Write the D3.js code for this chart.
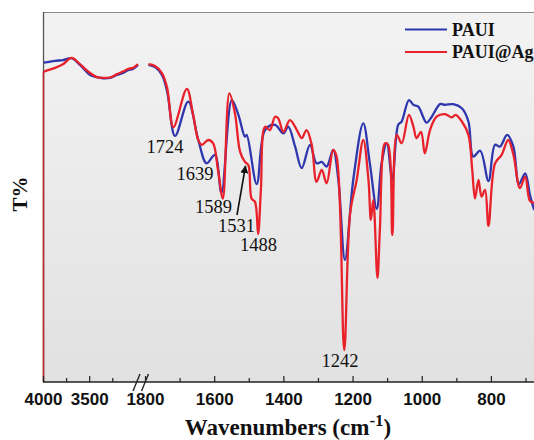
<!DOCTYPE html>
<html><head><meta charset="utf-8">
<script src="https://cdn.jsdelivr.net/npm/d3@7"></script>
<style>body{margin:0;background:#fff}svg{display:block}</style>
</head><body><div id="chart"></div>
<script>
// High-wavenumber segment (4000 - ~2970 cm-1)
const upperWave = [3992, 3870, 3784, 3689, 3600, 3491, 3416, 3351, 3275, 3199, 3134, 3080, 3026, 2972];
const upperPAUI   = [86.3, 86.8, 87.0, 87.5, 85.7, 83.0, 82.4, 82.1, 82.2, 83.0, 83.5, 84.3, 84.6, 85.7];
const upperPAUIAg = [83.9, 84.9, 85.9, 87.6, 85.9, 83.5, 82.4, 82.2, 82.3, 83.2, 83.9, 84.6, 84.9, 85.9];

// Fingerprint segment (1800 - ~675 cm-1)
const bluWave = [1790,1771,1751,1736,1713,1675,1646,1622,1598,1579,1549,1530,1511,1506,1477,1453,1424,1400,1386,1366,1347,1323,1304,1289,1275,1256,1241,1222,1198,1169,1150,1130,1116,1101,1085,1068,1058,1037,1024,1010,986,971,947,933,909,884,865,851,831,807,788,774,753,735,719,701,687,675];
const bluT    = [85.7,85.1,83.0,78.5,66.5,75.8,65.4,59.1,61.4,51.1,76.2,72.2,66.3,66.8,53.5,68.1,69.5,67.2,69.0,63.6,57.8,64.1,59.1,59.5,58.2,62.7,54.6,33.0,54.6,69.9,59.1,46.8,59.1,64.5,54.6,69.5,70.4,76.2,74.9,74.4,70.1,71.7,75.1,74.9,75.1,74.0,70.4,60.9,62.5,54.3,64.1,63.6,66.8,63.6,53.5,56.4,50.5,46.5];
const redWave = [1790,1771,1751,1736,1718,1679,1661,1646,1636,1617,1603,1589,1575,1556,1540,1525,1511,1501,1492,1482,1473,1465,1453,1439,1424,1415,1400,1381,1361,1347,1333,1318,1304,1289,1275,1256,1246,1224,1207,1188,1169,1154,1147,1140,1128,1121,1106,1097,1085,1072,1058,1037,1024,1015,1002,991,976,957,933,913,902,884,865,854,846,836,827,817,807,788,769,750,735,716,701,687,675];
const redT    = [85.9,85.4,83.5,79.5,68.9,79.2,72.2,65.4,64.1,65.4,64.5,57.3,49.6,78.0,72.6,62.2,59.5,58.6,49.6,48.7,40.0,51.9,69.0,68.1,71.7,71.3,67.6,70.8,68.1,65.9,68.1,64.1,54.1,57.3,53.7,62.7,60.9,8.6,45.6,54.6,65.4,54.6,43.8,49.2,28.1,41.1,64.5,64.1,39.7,66.8,64.5,72.2,69.0,65.9,67.6,61.8,68.1,71.7,72.4,71.5,72.2,70.4,66.8,57.3,49.6,54.6,50.1,51.9,42.2,59.1,61.4,65.4,61.4,52.4,55.5,48.9,48.4];

const seriesNames = ["PAUI", "PAUI@Ag"];
const seriesColors = ["#2f37ae", "#e8212b"];
const upperTicks = [4000, 3750, 3500, 3250];
const upperLabels = [4000, 3500];
const lowerTicks = [1800,1700,1600,1500,1400,1300,1200,1100,1000,900,800,700];
const lowerLabels = [1800,1600,1400,1200,1000,800];
const peakLabels = [
  {text:"1724", cx:165, y:153},
  {text:"1639", cx:195, y:180},
  {text:"1589", cx:213.5, y:213},
  {text:"1531", cx:236.5, y:232},
  {text:"1488", cx:258.5, y:251},
  {text:"1242", cx:340, y:367}
];

const W = 534, H = 440;
const mLeft = 43, mTop = 12, mBottom = 382, mRight = 560;
const svg = d3.select("#chart").append("svg").attr("width", W).attr("height", H);

const defs = svg.append("defs");
const grad = defs.append("linearGradient").attr("id","bg").attr("x1",0).attr("y1",0).attr("x2",0).attr("y2",1);
grad.append("stop").attr("offset","0%").attr("stop-color","#f3f3f3");
grad.append("stop").attr("offset","100%").attr("stop-color","#e1e1e1");
defs.append("clipPath").attr("id","clip").append("rect")
  .attr("x", mLeft).attr("y", mTop).attr("width", mRight-mLeft).attr("height", mBottom-mTop);

svg.append("rect").attr("x", mLeft).attr("y", mTop).attr("width", mRight-mLeft).attr("height", mBottom-mTop)
  .attr("fill","url(#bg)");

const xU = d3.scaleLinear().domain([4000, 2950]).range([mLeft, 140]);
const xL = d3.scaleLinear().domain([1800, 700]).range([145, 525.5]);
const y = d3.scaleLinear().domain([0, 100]).range([mBottom, mTop]);

// borders
svg.append("line").attr("x1", mLeft).attr("x2", W).attr("y1", mTop+0.5).attr("y2", mTop+0.5)
  .attr("stroke","#8a8a8a").attr("stroke-width",1.2);
svg.append("line").attr("x1", mLeft+0.5).attr("x2", mLeft+0.5).attr("y1", mTop).attr("y2", mBottom)
  .attr("stroke","#555").attr("stroke-width",1.3);
// red trace running down the left edge
svg.append("line").attr("x1", mLeft+0.5).attr("x2", mLeft+0.5)
  .attr("y1", y(upperPAUIAg[0])).attr("y2", mBottom)
  .attr("stroke","#b8282e").attr("stroke-width",1.6);

const line = (xs) => d3.line().x(d => xs(d.w)).y(d => y(d.t)).curve(d3.curveCatmullRom.alpha(0.5));
const g = svg.append("g").attr("clip-path","url(#clip)");
const mk = (ws, ts) => ws.map((w,i) => ({w, t: ts[i]}));
const segs = [
  {xs:xU, data: mk(upperWave, upperPAUI), c:0},
  {xs:xL, data: mk(bluWave, bluT), c:0},
  {xs:xU, data: mk(upperWave, upperPAUIAg), c:1},
  {xs:xL, data: mk(redWave, redT), c:1}
];
segs.forEach(s => {
  g.append("path").datum(s.data).attr("d", line(s.xs)).attr("fill","none")
   .attr("stroke", seriesColors[s.c]).attr("stroke-width", 2.3).attr("stroke-linejoin","round");
});

// x axis baseline
svg.append("line").attr("x1", mLeft).attr("x2", W).attr("y1", mBottom).attr("y2", mBottom)
  .attr("stroke","#222").attr("stroke-width",1.3);

function drawAxis(scale, ticks, labels) {
  const ax = d3.axisBottom(scale).tickValues(ticks).tickSize(-5).tickPadding(11)
    .tickFormat(d => labels.includes(d) ? d : "");
  const ga = svg.append("g").attr("transform", `translate(0,${mBottom})`).call(ax);
  ga.select(".domain").remove();
  ga.selectAll(".tick line").attr("stroke","#222").attr("stroke-width",1.2)
    .attr("y2", d => labels.includes(d) ? -6 : -4);
  ga.selectAll(".tick text").attr("font-family","'Liberation Sans', Arial, sans-serif")
    .attr("font-weight","bold").attr("font-size","17px").attr("fill","#111");
}
drawAxis(xU, upperTicks, upperLabels);
drawAxis(xL, lowerTicks, lowerLabels);

// break marks
[[133,391,140,374],[141.5,391,148.5,374]].forEach(p => {
  svg.append("line").attr("x1",p[0]).attr("y1",p[1]).attr("x2",p[2]).attr("y2",p[3])
    .attr("stroke","#222").attr("stroke-width",1.4);
});

// axis titles
const xt = svg.append("text").attr("x", 288).attr("y", 435).attr("text-anchor","middle")
  .attr("font-family","'Liberation Serif', 'Times New Roman', serif").attr("font-weight","bold")
  .attr("font-size","23px").attr("fill","#111");
xt.append("tspan").text("Wavenumbers (cm");
xt.append("tspan").attr("dy", -9).attr("font-size","17px").text("-1");
xt.append("tspan").attr("dy", 9).text(")");

svg.append("text").attr("transform","translate(27,194) rotate(-90)").attr("text-anchor","middle")
  .attr("font-family","'Liberation Serif', 'Times New Roman', serif").attr("font-weight","bold")
  .attr("font-size","21px").attr("fill","#111").text("T%");

// legend
seriesNames.forEach((n,i) => {
  const ly = 29.5 + i*22.5;
  svg.append("line").attr("x1",405).attr("x2",447).attr("y1",ly).attr("y2",ly)
    .attr("stroke",seriesColors[i]).attr("stroke-width",2.2);
  svg.append("text").attr("x",452).attr("y",ly+6).attr("font-family","'Liberation Serif', 'Times New Roman', serif")
    .attr("font-weight","bold").attr("font-size","18px").attr("fill","#111").text(n);
});

// peak labels
peakLabels.forEach(p => {
  svg.append("text").attr("x",p.cx).attr("y",p.y).attr("text-anchor","middle")
    .attr("font-family","'Liberation Serif', 'Times New Roman', serif").attr("font-size","18.5px")
    .attr("fill","#111").text(p.text);
});

// arrow toward 1531 shoulder
defs.append("marker").attr("id","arr").attr("viewBox","0 0 10 10").attr("refX",9).attr("refY",5)
  .attr("markerWidth",5).attr("markerHeight",5).attr("orient","auto")
  .append("path").attr("d","M0,0 L10,5 L0,10 z").attr("fill","#111");
svg.append("line").attr("x1",237).attr("y1",215).attr("x2",245.5).attr("y2",166)
  .attr("stroke","#111").attr("stroke-width",1.6).attr("marker-end","url(#arr)");
</script></body></html>
